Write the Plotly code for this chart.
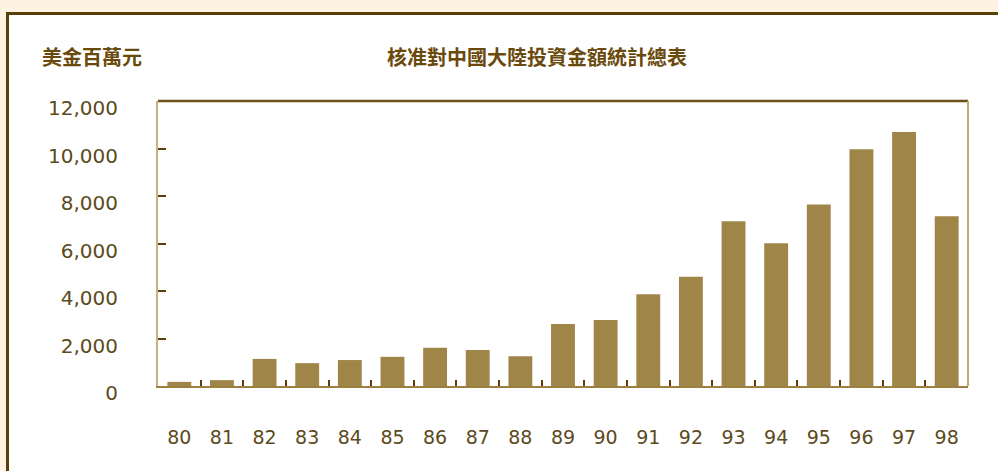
import plotly.graph_objects as go

# ROC years (80 = 1991 ... 98 = 2009)
years = ["80", "81", "82", "83", "84", "85", "86", "87", "88", "89",
         "90", "91", "92", "93", "94", "95", "96", "97", "98"]
# Approved investment amount, US$ million
amounts = [174, 247, 1140, 962, 1093, 1229, 1615, 1519, 1253, 2607,
           2784, 3859, 4595, 6941, 6007, 7642, 9970, 10691, 7143]
y_ticks = [0, 2000, 4000, 6000, 8000, 10000, 12000]

title_text = "核准對中國大陸投資金額統計總表"
unit_text = "美金百萬元"

BAR = "#a08548"
TEXT = "#5c4a1c"
DARK = "#5a3e0c"

L, R, T, B = 158, 30, 101, 85
W, H = 998, 471
pw, ph = W - L - R, H - T - B


def px_x(px):
    return (px - L) / pw


def px_y(py):
    return (H - B - py) / ph


fig = go.Figure(go.Bar(x=years, y=amounts, marker=dict(color=BAR, line=dict(width=0))))

fig.update_layout(
    width=W, height=H,
    margin=dict(l=L, r=R, t=T, b=B),
    paper_bgcolor="#fdf3e0",
    plot_bgcolor="white",
    bargap=0.44,
    showlegend=False,
    font=dict(family="DejaVu Sans", size=19, color=TEXT),
)

fig.update_yaxes(
    range=[0, 12000], tickvals=y_ticks, tickformat=",",
    tickfont=dict(size=20),
    showgrid=False, zeroline=False,
    showline=True, linecolor="#c8b27e", linewidth=2,
    ticks="inside", ticklen=8, tickwidth=2, tickcolor=DARK,
    ticklabelstandoff=34, ticklabelshift=7,
)
fig.update_xaxes(
    type="category", showgrid=False,
    showline=True, linecolor="#9c8040", linewidth=2,
    ticks="inside", tickson="boundaries", ticklen=6, tickwidth=2, tickcolor=DARK,
    ticklabelstandoff=33,
)

shapes = [
    # outer framed panel
    dict(type="rect", xref="paper", yref="paper", layer="below",
         x0=px_x(7.5), x1=px_x(1010), y0=px_y(490), y1=px_y(13.5),
         fillcolor="white", line=dict(color=DARK, width=3)),
    # top and right edges of the plot frame
    dict(type="line", xref="paper", yref="paper", x0=0, x1=1, y0=1, y1=1,
         line=dict(color="#6b5018", width=2.5)),
    dict(type="line", xref="paper", yref="paper", x0=1, x1=1, y0=0, y1=1,
         line=dict(color="#c0a870", width=2)),
]
fig.update_layout(shapes=shapes)

cjk = "Noto Sans CJK TC"
label_font = dict(family=cjk, size=20, color="#6a4a0c", weight=700)
fig.add_annotation(text=title_text, xref="paper", yref="paper",
                   x=px_x(537), y=px_y(57), xanchor="center", yanchor="middle",
                   showarrow=False, font=label_font)
fig.add_annotation(text=unit_text, xref="paper", yref="paper",
                   x=px_x(92), y=px_y(57), xanchor="center", yanchor="middle",
                   showarrow=False, font=label_font)

fig.write_html("out.html")
